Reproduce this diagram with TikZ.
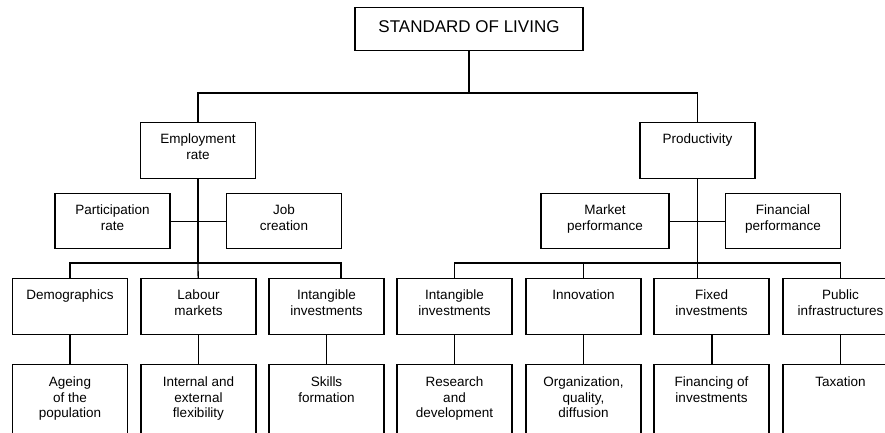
\documentclass[tikz,border=0pt]{standalone}
\usepackage{fontspec}
\setmainfont{Liberation Sans}
\begin{document}
\begin{tikzpicture}[x=1pt,y=-1pt,line width=1.3pt,
box/.style={draw,anchor=north,minimum width=115pt,inner sep=0pt,align=center,
  text height=21pt,text depth=35pt,font=\fontsize{13.5}{15.5}\selectfont},
box2/.style={box,text height=36.5pt,text depth=19.5pt},
mid2/.style={box,text height=36.5pt,text depth=18.5pt},
low/.style={box,text height=22pt,text depth=58pt},
low2/.style={box,text height=37.5pt,text depth=42.5pt},
low3/.style={box,text height=53pt,text depth=27pt}]
\useasboundingbox (0,0) rectangle (885,433);
\clip (0,0) rectangle (885,433);
\node[box,minimum width=228pt,text height=25pt,text depth=18pt,
  font=\fontsize{17}{20}\selectfont] (sol) at (469,7) {STANDARD OF LIVING};
\node[box2] (emp) at (198,122) {Employment\\rate};
\node[box] (prod) at (697.5,122) {Productivity};
\node[mid2] (part) at (112.5,193) {Participation\\rate};
\node[mid2] (job) at (284,193) {Job\\creation};
\node[mid2,minimum width=128pt] (mkt) at (605,193) {Market\\performance};
\node[mid2] (fin) at (783,193) {Financial\\performance};
\node[box] (demo) at (70,278) {Demographics};
\node[box2] (lab) at (198.5,278) {Labour\\markets};
\node[box2] (intl) at (326.5,278) {Intangible\\investments};
\node[box2] (intr) at (454.5,278) {Intangible\\investments};
\node[box] (inno) at (583.5,278) {Innovation};
\node[box2] (fix) at (711.5,278) {Fixed\\investments};
\node[box2] (pub) at (840.5,278) {Public\\infrastructures};
\node[low3] (age) at (70,364) {Ageing\\of the\\population};
\node[low3] (flex) at (198.5,364) {Internal and\\external\\flexibility};
\node[low2] (skill) at (326.5,364) {Skills\\formation};
\node[low3] (rd) at (454.5,364) {Research\\and\\development};
\node[low3] (org) at (583.5,364) {Organization,\\quality,\\diffusion};
\node[low2] (finv) at (711.5,364) {Financing of\\investments};
\node[low] (tax) at (840.5,364) {Taxation};
\coordinate (bus) at (469,93);
\coordinate (lbus) at (198,263);
\coordinate (rbus) at (697.5,263);
\draw (sol) -- (bus) -| (emp);
\draw (bus) -| (prod);
\draw (emp) -- (lbus);
\draw (part) -- (job);
\draw (lbus) -| (demo);
\draw (lbus) -- (lab);
\draw (lbus) -| ([xshift=14.5pt]intl.north);
\draw (prod) -- (prod.south |- fix.north);
\draw (mkt) -- (fin);
\draw (rbus) -| (intr);
\draw (rbus) -| (inno);
\draw (rbus) -| (pub);
\draw (demo) -- (age);
\draw (lab) -- (flex);
\draw (intl) -- (skill);
\draw (intr) -- (rd);
\draw (inno) -- (org);
\draw[line width=2pt] (fix) -- (finv);
\draw (pub) -- (tax);
\end{tikzpicture}
\end{document}
